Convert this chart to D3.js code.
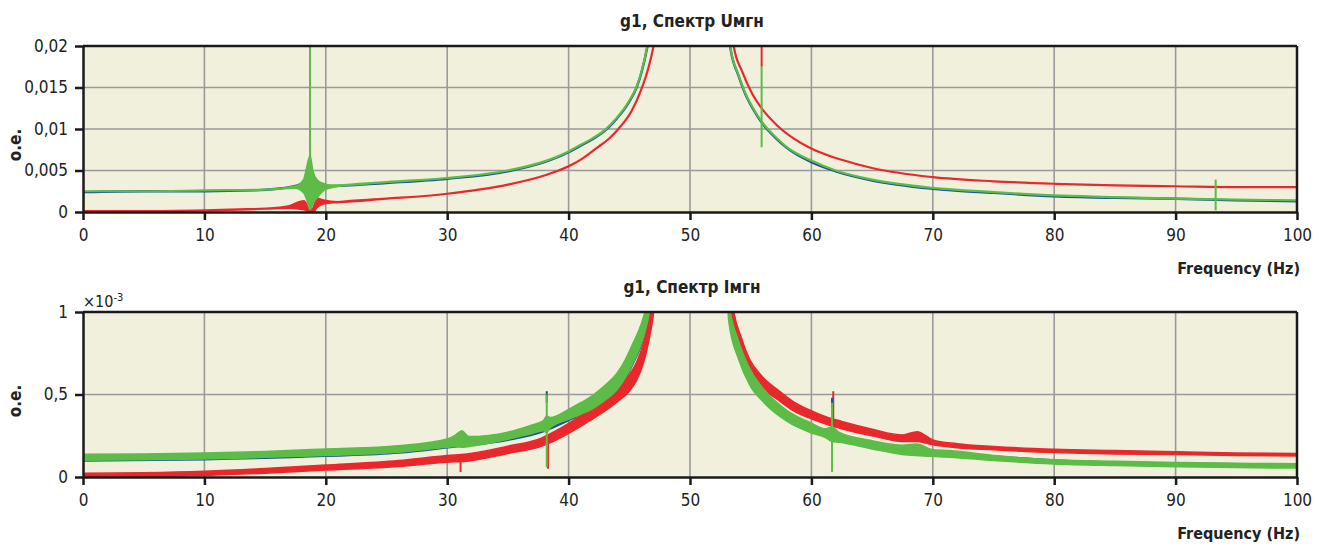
<!DOCTYPE html>
<html>
<head>
<meta charset="utf-8">
<script src="https://cdn.jsdelivr.net/npm/d3@7"></script>
<style>
  body { margin: 0; background: #fff; }
  text { font-family: "Liberation Sans Narrow", "DejaVu Sans Condensed", sans-serif; }
</style>
</head>
<body>
<div id="chart"></div>
<script>
// ---- data ----
// [frequency Hz, value, spread] ; spread = half width of the noisy band

const xTicks = [0, 10, 20, 30, 40, 50, 60, 70, 80, 90, 100];

// top panel: g1, Spectrum Umgn (o.e.)
const uTicks = [0, 0.005, 0.01, 0.015, 0.02];
const uLabels = ["0", "0,005", "0,01", "0,015", "0,02"];

const uBlue = [
  [0, 0.0024], [5, 0.0025], [10, 0.0025], [14, 0.0026], [16, 0.0028], [17, 0.003],
  [18, 0.0034], [18.5, 0.004], [18.9, 0.0034], [19.5, 0.0031], [20, 0.0031], [25, 0.0035],
  [30, 0.004], [35, 0.0049], [38, 0.006], [40, 0.0072], [41, 0.008], [42, 0.0088],
  [43, 0.0098], [44, 0.0113], [45, 0.0133], [45.6, 0.015], [46, 0.0168], [46.5, 0.02], [47, 0.0245],
  [53, 0.0245], [53.3, 0.02], [54, 0.0164], [54.5, 0.0144], [55.2, 0.0124], [56, 0.0106],
  [57, 0.009], [58, 0.0077], [60, 0.006], [62, 0.0049], [65, 0.0038], [70, 0.0028],
  [75, 0.0023], [80, 0.0019], [85, 0.0017], [90, 0.0016], [95, 0.0014], [100, 0.0013]
];

const uGreen = [
  [0, 0.0025, 0], [5, 0.0025, 0], [10, 0.0026, 0], [15, 0.0027, 0], [17.5, 0.003, 0.0001],
  [18.2, 0.0031, 0.0008], [18.5, 0.0035, 0.0022], [18.7, 0.0035, 0.0032], [18.9, 0.003, 0.002],
  [19.3, 0.0028, 0.001], [19.8, 0.003, 0.0004], [20.5, 0.0031, 0.0001], [25, 0.0036, 0],
  [30, 0.0041, 0], [35, 0.005, 0], [38, 0.0061, 0], [40, 0.0073, 0], [41, 0.0081, 0], [42, 0.0089, 0],
  [43, 0.0099, 0], [44, 0.0114, 0], [45, 0.0134, 0], [45.6, 0.0151, 0], [46, 0.0169, 0], [46.5, 0.0201, 0],
  [47, 0.0245, 0], [53, 0.0245, 0], [53.3, 0.0201, 0], [54, 0.0165, 0], [54.5, 0.0145, 0],
  [55.2, 0.0125, 0], [56, 0.0107, 0], [57, 0.0091, 0], [58, 0.0078, 0], [60, 0.0062, 0],
  [62, 0.005, 0], [65, 0.0039, 0], [70, 0.0029, 0], [75, 0.0024, 0], [80, 0.002, 0],
  [85, 0.0018, 0], [90, 0.0016, 0], [95, 0.0015, 0], [100, 0.0014, 0]
];

const uRed = [
  [0, 0.0001, 0], [5, 0.0001, 0], [10, 0.0002, 0], [15, 0.0004, 0], [17, 0.0006, 0.0001],
  [17.8, 0.0008, 0.0004], [18.2, 0.0008, 0.0005], [18.6, 0.0003, 0.0002], [18.9, 0.0002, 0.0002],
  [19.3, 0.0011, 0.0005], [19.8, 0.0012, 0.0002], [21, 0.0012, 0], [25, 0.0016, 0],
  [30, 0.0022, 0], [35, 0.0033, 0], [38, 0.0044, 0], [40, 0.0055, 0], [41.2, 0.0065, 0], [42.3, 0.0077, 0],
  [43.3, 0.0088, 0], [44.1, 0.01, 0], [45.2, 0.0122, 0], [46, 0.0148, 0], [46.6, 0.0175, 0], [47, 0.02, 0],
  [47.5, 0.0245, 0], [53.2, 0.0245, 0], [53.6, 0.02, 0], [54.3, 0.0169, 0], [55.1, 0.0143, 0],
  [56, 0.0123, 0], [57.2, 0.0104, 0], [58.5, 0.0089, 0], [59.9, 0.0077, 0], [61.8, 0.0066, 0],
  [63.2, 0.006, 0], [65, 0.0053, 0], [70, 0.0042, 0], [75, 0.0037, 0], [80, 0.0034, 0],
  [85, 0.0032, 0], [90, 0.0031, 0], [95, 0.003, 0], [100, 0.003, 0]
];

// narrow vertical spikes: [frequency, low, high, series]
const uSpikes = [
  [0, 0, 0.0025, "green"], [18.7, 0.003, 0.021, "green"], [55.9, 0.0175, 0.021, "red"],
  [55.9, 0.0078, 0.0175, "green"], [93.3, 0.0002, 0.0039, "green"]
];

// bottom panel: g1, Spectrum Imgn (o.e., x10^-3)
const iTicks = [0, 0.5, 1];
const iLabels = ["0", "0,5", "1"];

const iBlue = [
  [0, 0.1], [10, 0.108], [20, 0.128], [26, 0.148], [30, 0.18], [35, 0.226], [37.9, 0.277],
  [40, 0.345], [42, 0.42], [44, 0.525], [45.3, 0.69], [46, 0.81], [46.5, 0.95], [47, 1.2],
  [53, 1.2], [53.4, 0.95], [54, 0.76], [54.9, 0.6], [56.1, 0.48], [58, 0.36],
  [59.9, 0.29], [62.3, 0.235], [65, 0.19], [70, 0.155], [75, 0.125], [80, 0.1],
  [85, 0.088], [90, 0.082], [95, 0.077], [100, 0.074]
];

const iGreen = [
  [0, 0.12, 0.018], [5, 0.122, 0.018], [10, 0.127, 0.018], [15, 0.137, 0.018], [20, 0.15, 0.02],
  [26, 0.17, 0.02], [30, 0.205, 0.025], [30.7, 0.22, 0.035], [31.2, 0.23, 0.05], [31.8, 0.215, 0.03],
  [35, 0.25, 0.022], [37, 0.29, 0.026], [37.9, 0.31, 0.03], [38.2, 0.32, 0.05], [38.5, 0.33, 0.03],
  [40, 0.38, 0.03], [41, 0.415, 0.035], [42, 0.455, 0.04], [43, 0.51, 0.045], [44, 0.58, 0.05],
  [44.7, 0.66, 0.055], [45.3, 0.75, 0.06], [46, 0.87, 0.06], [46.5, 1.0, 0.06], [47, 1.2, 0.06],
  [53, 1.2, 0.06], [53.2, 1.0, 0.06], [54, 0.77, 0.055], [54.9, 0.61, 0.05], [56.1, 0.49, 0.04],
  [58, 0.37, 0.033], [59.9, 0.3, 0.03], [61.2, 0.265, 0.027], [61.7, 0.26, 0.045], [62.3, 0.24, 0.03],
  [65, 0.195, 0.025], [67.5, 0.165, 0.028], [68.7, 0.165, 0.035], [70, 0.145, 0.02], [71.4, 0.14, 0.02],
  [75, 0.115, 0.015], [80, 0.092, 0.013], [85, 0.082, 0.013], [90, 0.075, 0.013], [95, 0.07, 0.013],
  [100, 0.067, 0.013]
];

const iRed = [
  [0, 0.01, 0.012], [5, 0.014, 0.012], [10, 0.022, 0.013], [15, 0.037, 0.014], [20, 0.057, 0.015],
  [26, 0.082, 0.018], [30, 0.11, 0.02], [31.6, 0.118, 0.022], [35, 0.165, 0.022], [37.8, 0.212, 0.025],
  [38.5, 0.235, 0.027], [40, 0.295, 0.03], [41, 0.34, 0.033], [42, 0.39, 0.037], [43, 0.44, 0.04],
  [44, 0.5, 0.045], [45, 0.57, 0.05], [45.6, 0.64, 0.055], [46.2, 0.76, 0.06], [46.6, 0.88, 0.06],
  [46.9, 1.0, 0.06], [47.3, 1.2, 0.06], [53.2, 1.2, 0.05], [53.5, 1.0, 0.05], [54.2, 0.8, 0.05],
  [54.9, 0.67, 0.045], [56, 0.57, 0.035], [57.2, 0.5, 0.03], [58.5, 0.43, 0.027], [59.9, 0.38, 0.025],
  [61.3, 0.34, 0.022], [62.5, 0.315, 0.022], [65, 0.27, 0.02], [67.5, 0.235, 0.02], [68.7, 0.245, 0.03],
  [70, 0.21, 0.015], [72, 0.19, 0.012], [75, 0.175, 0.01], [80, 0.158, 0.01], [85, 0.15, 0.01],
  [90, 0.145, 0.008], [95, 0.138, 0.008], [100, 0.135, 0.008]
];

const iSpikes = [
  [31.1, 0.03, 0.12, "red"], [38.3, 0.05, 0.25, "red"], [61.8, 0.35, 0.52, "red"],
  [38.2, 0.45, 0.52, "blue"], [61.7, 0.42, 0.48, "blue"],
  [38.2, 0.06, 0.5, "green"], [61.7, 0.03, 0.45, "green"]
];

const colors = { blue: "#1c4f9e", green: "#5cbc47", red: "#e8282c" };

// ---- chart ----
const width = 1319, height = 547;

const svg = d3.select("#chart")
  .append("svg")
  .attr("width", width)
  .attr("height", height);

const x = d3.scaleLinear()
  .domain([0, 100])
  .range([83, 1297]);

function drawPanel(p) {
  const y = d3.scaleLinear()
    .domain([p.ticks[0], p.ticks[p.ticks.length - 1]])
    .range([p.bottom, p.top]);

  const g = svg.append("g");

  svg.append("clipPath")
    .attr("id", p.id + "-clip")
    .append("rect")
    .attr("x", x(0))
    .attr("y", p.top)
    .attr("width", x(100) - x(0))
    .attr("height", p.bottom - p.top);

  g.append("rect")
    .attr("x", x(0))
    .attr("y", p.top)
    .attr("width", x(100) - x(0))
    .attr("height", p.bottom - p.top)
    .attr("fill", "#f0f0dc");

  // grid
  g.append("g")
    .selectAll("line")
    .data(xTicks.slice(1, -1))
    .join("line")
    .attr("x1", d => x(d)).attr("x2", d => x(d))
    .attr("y1", p.top).attr("y2", p.bottom)
    .attr("stroke", "#9a9a9a").attr("stroke-width", 1.6);

  g.append("g")
    .selectAll("line")
    .data(p.ticks.slice(1, -1))
    .join("line")
    .attr("x1", x(0)).attr("x2", x(100))
    .attr("y1", d => y(d)).attr("y2", d => y(d))
    .attr("stroke", "#9a9a9a").attr("stroke-width", 1.6);

  const band = d3.area()
    .curve(d3.curveMonotoneX)
    .x(d => x(d[0]))
    .y0(d => y(d[1] - (d[2] || 0)))
    .y1(d => y(d[1] + (d[2] || 0)));

  const plot = g.append("g").attr("clip-path", `url(#${p.id}-clip)`);

  for (let s of p.series) {
    plot.append("path")
      .datum(s.data)
      .attr("fill", colors[s.name])
      .attr("stroke", colors[s.name])
      .attr("stroke-width", s.lw)
      .attr("stroke-linejoin", "round")
      .attr("d", band);
  }

  plot.append("g")
    .selectAll("line")
    .data(p.spikes)
    .join("line")
    .attr("x1", d => x(d[0])).attr("x2", d => x(d[0]))
    .attr("y1", d => y(d[1])).attr("y2", d => y(d[2]))
    .attr("stroke", d => colors[d[3]])
    .attr("stroke-width", 2);

  // frame top / right
  g.append("line")
    .attr("x1", x(0)).attr("x2", x(100))
    .attr("y1", p.top).attr("y2", p.top)
    .attr("stroke", "#1a1a1a").attr("stroke-width", 2.5);
  g.append("line")
    .attr("x1", x(100)).attr("x2", x(100))
    .attr("y1", p.top).attr("y2", p.bottom)
    .attr("stroke", "#1a1a1a").attr("stroke-width", 2.5);

  // axes
  const xAxis = g.append("g")
    .attr("transform", `translate(0,${p.bottom})`)
    .call(d3.axisBottom(x)
      .tickValues(xTicks)
      .tickSize(8)
      .tickSizeOuter(0)
      .tickPadding(9)
      .tickFormat(d3.format("d")));

  const yAxis = g.append("g")
    .attr("transform", `translate(${x(0)},0)`)
    .call(d3.axisLeft(y)
      .tickValues(p.ticks)
      .tickSize(8)
      .tickSizeOuter(0)
      .tickPadding(7)
      .tickFormat((d, i) => p.labels[i]));

  for (let ax of [xAxis, yAxis]) {
    ax.select(".domain").attr("stroke", "#1a1a1a").attr("stroke-width", 2.5);
    ax.selectAll(".tick line").attr("stroke", "#1a1a1a").attr("stroke-width", 2.5);
    ax.selectAll(".tick text")
      .attr("font-size", 17)
      .attr("fill", "#222")
      .style("font-family", '"Liberation Sans Narrow", "DejaVu Sans Condensed", sans-serif');
  }

  // labels
  svg.append("text")
    .attr("x", 692)
    .attr("y", p.titleY)
    .attr("text-anchor", "middle")
    .attr("font-size", 17)
    .attr("font-weight", "bold")
    .attr("fill", "#222")
    .text(p.title);

  svg.append("text")
    .attr("x", 1300)
    .attr("y", p.bottom + 62)
    .attr("text-anchor", "end")
    .attr("font-size", 16)
    .attr("font-weight", "bold")
    .attr("fill", "#222")
    .text("Frequency (Hz)");

  svg.append("text")
    .attr("transform", `translate(21,${p.labelY}) rotate(-90)`)
    .attr("text-anchor", "middle")
    .attr("font-size", 17)
    .attr("font-weight", "bold")
    .attr("fill", "#222")
    .text("o.e.");
}

drawPanel({
  id: "u", top: 46, bottom: 212, ticks: uTicks, labels: uLabels,
  title: "g1, Спектр Uмгн", titleY: 27, labelY: 145,
  series: [
    { name: "blue", data: uBlue, lw: 2.4 },
    { name: "red", data: uRed, lw: 2.2 },
    { name: "green", data: uGreen, lw: 2.2 }
  ],
  spikes: uSpikes
});

drawPanel({
  id: "i", top: 312, bottom: 477, ticks: iTicks, labels: iLabels,
  title: "g1, Спектр Iмгн", titleY: 293, labelY: 401,
  series: [
    { name: "blue", data: iBlue, lw: 2.4 },
    { name: "red", data: iRed, lw: 1.5 },
    { name: "green", data: iGreen, lw: 1.5 }
  ],
  spikes: iSpikes
});

// x10^-3 multiplier
const mult = svg.append("text")
  .attr("x", 83)
  .attr("y", 307)
  .attr("font-size", 16)
  .attr("fill", "#222");
mult.append("tspan").text("×10");
mult.append("tspan").attr("dy", -6).attr("font-size", 11).text("-3");
</script>
</body>
</html>
